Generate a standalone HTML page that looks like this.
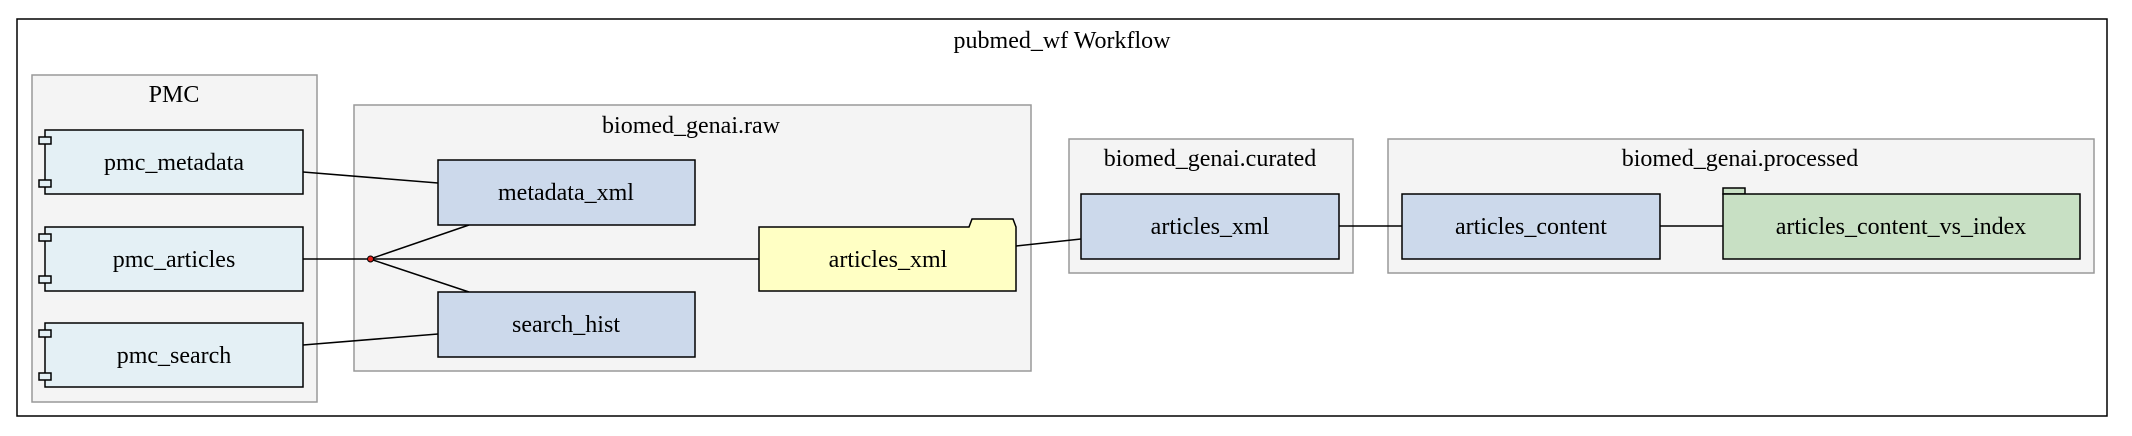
<!DOCTYPE html>
<html><head><meta charset="utf-8"><style>
html,body{margin:0;padding:0;background:#fff;}
svg{display:block;}
text{font-family:"Liberation Serif",serif;font-size:24px;fill:#000;}
</style></head><body>
<svg width="2132" height="436" viewBox="0 0 2132 436" xmlns="http://www.w3.org/2000/svg">
<rect x="0" y="0" width="2132" height="436" fill="#fff"/>
<rect x="17" y="19" width="2090" height="397" fill="#fff" stroke="#000" stroke-width="1.5"/>
<text x="1062" y="48" text-anchor="middle">pubmed_wf Workflow</text>

<rect x="32" y="75" width="285" height="327" fill="#f4f4f4" stroke="#999" stroke-width="1.5"/>
<text x="174" y="102" text-anchor="middle">PMC</text>
<rect x="354" y="105" width="677" height="266" fill="#f4f4f4" stroke="#999" stroke-width="1.5"/>
<text x="691" y="133" text-anchor="middle">biomed_genai.raw</text>
<rect x="1069" y="139" width="284" height="134" fill="#f4f4f4" stroke="#999" stroke-width="1.5"/>
<text x="1210" y="166" text-anchor="middle">biomed_genai.curated</text>
<rect x="1388" y="139" width="706" height="134" fill="#f4f4f4" stroke="#999" stroke-width="1.5"/>
<text x="1740" y="166" text-anchor="middle">biomed_genai.processed</text>

<g stroke="#000" stroke-width="1.5" fill="none">
<line x1="303" y1="172" x2="438" y2="183"/>
<line x1="303" y1="259" x2="759" y2="259"/>
<line x1="370" y1="259" x2="469" y2="225"/>
<line x1="370" y1="259" x2="469" y2="292"/>
<line x1="303" y1="345" x2="438" y2="334"/>
<line x1="1016" y1="246" x2="1081" y2="239"/>
<line x1="1339" y1="226" x2="1402" y2="226"/>
<line x1="1659" y1="226" x2="1723" y2="226"/>
</g>
<circle cx="370.5" cy="259" r="3" fill="#e0201a" stroke="#000" stroke-width="1"/>

<g stroke="#000" stroke-width="1.5" fill="#e4f0f5">
<rect x="45" y="130" width="258" height="64"/>
<rect x="39" y="137" width="12" height="7"/>
<rect x="39" y="180" width="12" height="7"/>
<rect x="45" y="227" width="258" height="64"/>
<rect x="39" y="234" width="12" height="7"/>
<rect x="39" y="276" width="12" height="7"/>
<rect x="45" y="323" width="258" height="64"/>
<rect x="39" y="330" width="12" height="7"/>
<rect x="39" y="373" width="12" height="7"/>
</g>
<text x="174" y="170" text-anchor="middle">pmc_metadata</text>
<text x="174" y="267" text-anchor="middle">pmc_articles</text>
<text x="174" y="363" text-anchor="middle">pmc_search</text>

<g stroke="#000" stroke-width="1.5" fill="#ccd9eb">
<rect x="438" y="160" width="257" height="65"/>
<rect x="438" y="292" width="257" height="65"/>
<rect x="1081" y="194" width="258" height="65"/>
<rect x="1402" y="194" width="258" height="65"/>
</g>
<text x="566" y="200" text-anchor="middle">metadata_xml</text>
<text x="566" y="332" text-anchor="middle">search_hist</text>
<text x="1210" y="234" text-anchor="middle">articles_xml</text>
<text x="1531" y="234" text-anchor="middle">articles_content</text>

<path d="M759 227 L969 227 L972 219 L1013 219 L1016 227 L1016 291 L759 291 Z" fill="#ffffc4" stroke="#000" stroke-width="1.5"/>
<text x="888" y="267" text-anchor="middle">articles_xml</text>

<rect x="1723" y="188" width="22" height="6" fill="#c8e0c4" stroke="#000" stroke-width="1.5"/>
<rect x="1723" y="194" width="357" height="65" fill="#c8e0c4" stroke="#000" stroke-width="1.5"/>
<text x="1901" y="234" text-anchor="middle">articles_content_vs_index</text>
</svg>
</body></html>
